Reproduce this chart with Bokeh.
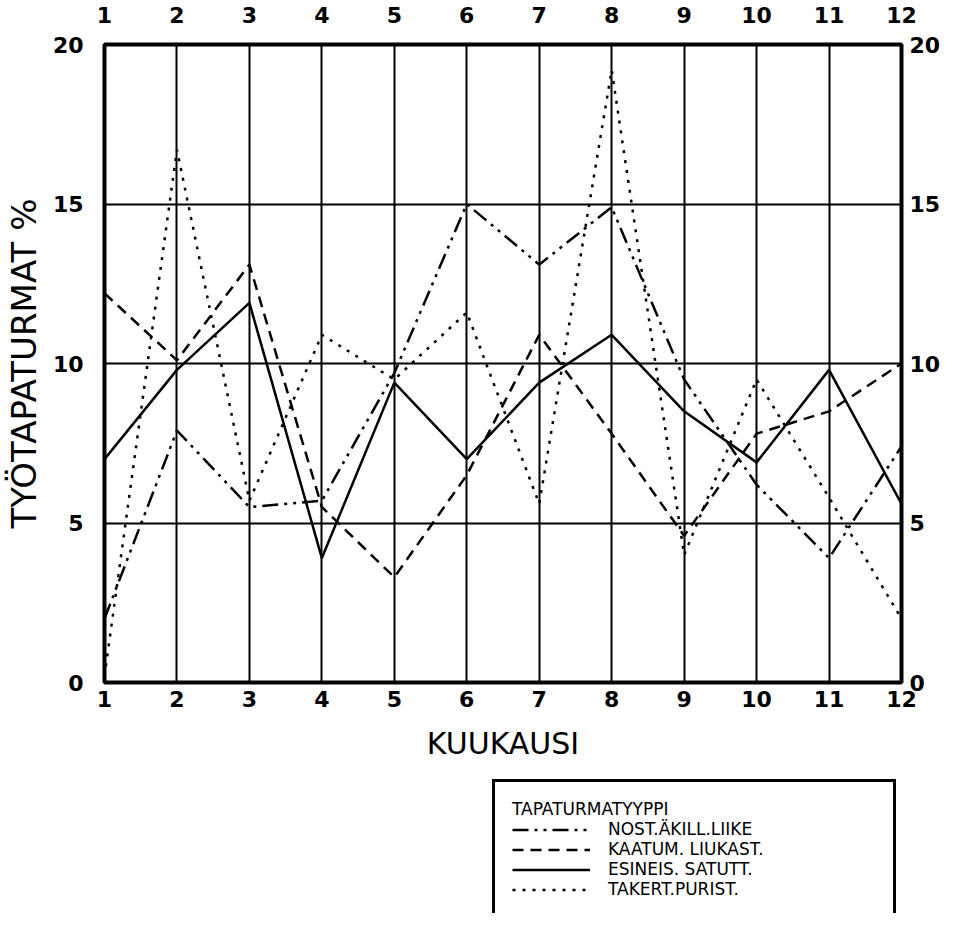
from bokeh.plotting import figure
from bokeh.layouts import column
from bokeh.models import LinearAxis, FixedTicker, Range1d, Legend, LegendItem
from bokeh.embed import file_html
from bokeh.resources import INLINE

months = [1, 2, 3, 4, 5, 6, 7, 8, 9, 10, 11, 12]
nost_akill = [2.0, 7.9, 5.5, 5.7, 9.7, 15.0, 13.1, 14.9, 9.5, 6.2, 3.9, 7.4]
kaatum = [12.2, 10.1, 13.1, 5.5, 3.3, 6.5, 10.9, 7.8, 4.6, 7.8, 8.5, 10.0]
esineis = [7.0, 9.8, 11.9, 3.9, 9.4, 7.0, 9.4, 10.9, 8.5, 6.9, 9.8, 5.6]
takert = [0.2, 16.7, 5.7, 10.9, 9.5, 11.6, 5.6, 19.2, 4.0, 9.5, 5.8, 2.0]
y_ticks = [0, 5, 10, 15, 20]
labels = ["NOST.ÄKILL.LIIKE", "KAATUM. LIUKAST.", "ESINEIS. SATUTT.", "TAKERT.PURIST."]
legend_title = "TAPATURMATYYPPI"
x_title = "KUUKAUSI"
y_title = "TYÖTAPATURMAT %"

FONT = "DejaVu Sans"
DASHES = ["16 6 3 6 3 6", "11 7", "solid", "3 7"]
LW = 2.5
NAN = float("nan")

BL, BR = 100, 37

p = figure(width=943, height=772,
           x_range=Range1d(1, 12), y_range=Range1d(0, 20),
           output_backend="svg", toolbar_location=None,
           min_border_left=BL, min_border_top=44, min_border_right=BR,
           min_border_bottom=90, x_axis_location=None, y_axis_location=None)
p.background_fill_color = "white"
p.border_fill_color = "white"
p.outline_line_color = "black"
p.outline_line_width = 4

xt = FixedTicker(ticks=months)
yt = FixedTicker(ticks=y_ticks)


def style_axis(ax, standoff):
    ax.axis_line_color = None
    ax.major_tick_line_color = None
    ax.minor_tick_line_color = None
    ax.major_tick_out = 0
    ax.major_tick_in = 0
    ax.minor_tick_out = 0
    ax.minor_tick_in = 0
    ax.major_label_text_font = FONT
    ax.major_label_text_font_size = "22px"
    ax.major_label_text_font_style = "bold"
    ax.major_label_text_color = "black"
    ax.major_label_standoff = standoff
    ax.axis_label_text_font = FONT
    ax.axis_label_text_font_style = "normal"
    ax.axis_label_text_color = "black"


bottom = LinearAxis(ticker=xt, axis_label=x_title)
style_axis(bottom, 8)
bottom.axis_label_text_font_size = "30px"
bottom.axis_label_standoff = 16
p.add_layout(bottom, "below")

top = LinearAxis(ticker=xt)
style_axis(top, 22)
p.add_layout(top, "above")

left = LinearAxis(ticker=yt, axis_label=y_title)
style_axis(left, 21)
left.axis_label_text_font_size = "34px"
left.axis_label_standoff = 6
p.add_layout(left, "left")

right = LinearAxis(ticker=yt)
style_axis(right, 8)
p.add_layout(right, "right")

p.xgrid.ticker = xt
p.ygrid.ticker = yt
for g in (p.xgrid, p.ygrid):
    g.grid_line_color = "black"
    g.grid_line_width = 2
    g.grid_line_alpha = 1.0

series = [nost_akill, kaatum, esineis, takert]
for vals, dash in zip(series, DASHES):
    p.line(months, vals, line_color="black", line_width=LW, line_dash=dash)

# legend panel below the chart (same side borders so the column aligns)
q = figure(width=943, height=141, x_range=Range1d(0, 1), y_range=Range1d(0, 1),
           output_backend="svg", toolbar_location=None,
           min_border_left=BL, min_border_top=0, min_border_right=BR,
           min_border_bottom=0, x_axis_location=None, y_axis_location=None)
q.outline_line_color = None
q.xgrid.visible = False
q.ygrid.visible = False
q.background_fill_color = "white"
q.border_fill_color = "white"

items = []
for lab, dash in zip(labels, DASHES):
    r = q.line([0, 1], [NAN, NAN], line_color="black", line_width=LW, line_dash=dash)
    items.append(LegendItem(label=lab, renderers=[r]))

legend = Legend(items=items, title=legend_title, location=(388, -6))
legend.title_text_font = FONT
legend.title_text_font_size = "17px"
legend.title_text_font_style = "normal"
legend.title_text_color = "black"
legend.title_standoff = 0
legend.label_text_font = FONT
legend.label_text_font_size = "17px"
legend.label_text_color = "black"
legend.glyph_width = 78
legend.glyph_height = 19
legend.label_height = 19
legend.label_standoff = 18
legend.label_width = 268
legend.spacing = 0
legend.padding = 17
legend.margin = 0
legend.border_line_color = "black"
legend.border_line_width = 3
legend.border_line_alpha = 1.0
legend.background_fill_color = "white"
legend.background_fill_alpha = 1.0
q.add_layout(legend, "center")

layout = column(p, q, spacing=0)
open("out.html", "w").write(file_html(layout, INLINE))
